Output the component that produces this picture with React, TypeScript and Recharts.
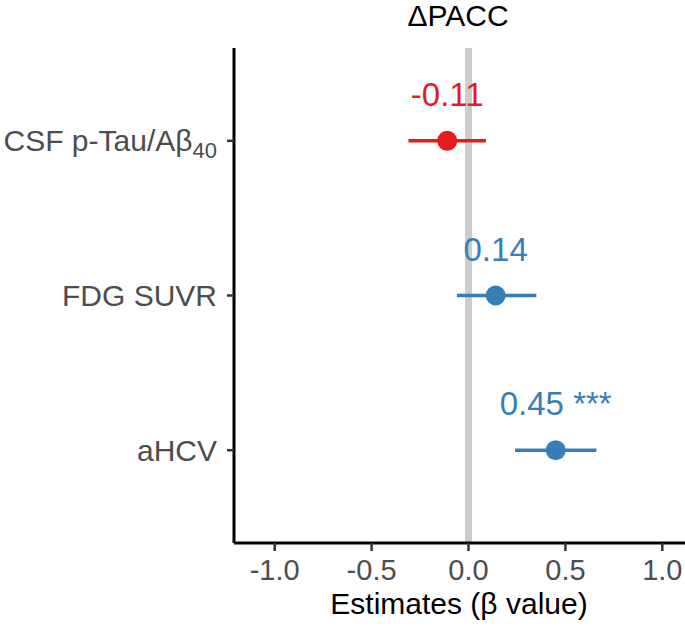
import { ScatterChart, Scatter, XAxis, YAxis, ErrorBar, ReferenceLine } from 'recharts'

// categories, top to bottom
const categoryNames = ['CSF p-Tau/Aβ', 'FDG SUVR', 'aHCV']
const categorySubs = ['40', '', '']
const positions = [1, 2, 3]

// beta estimates with 95% CI
const estimates = [-0.11, 0.14, 0.45]
const lower = [-0.31, -0.06, 0.24]
const upper = [0.09, 0.35, 0.66]
const valueLabels = ['-0.11', '0.14', '0.45 ***']

const xTicks = [-1, -0.5, 0, 0.5, 1]

const RED = '#E41A1C'
const BLUE = '#377EB8'
const FONT = '"Liberation Sans", Arial, Helvetica, sans-serif'

const rows = positions.map((pos, i) => ({
  pos,
  est: estimates[i],
  err: [estimates[i] - lower[i], upper[i] - estimates[i]],
  label: valueLabels[i],
}))
const negRows = rows.filter((r) => r.est < 0)
const posRows = rows.filter((r) => r.est >= 0)

function CategoryTick({ x, y, payload }: any) {
  const i = positions.indexOf(payload.value)
  if (i < 0) return null
  return (
    <text x={x} y={y + 10.5} textAnchor="end" fill="#4D4D4D" fontSize={30} fontFamily={FONT}>
      {categoryNames[i]}
      {categorySubs[i] && (
        <tspan fontSize={22} dy={7}>
          {categorySubs[i]}
        </tspan>
      )}
    </text>
  )
}

function ValueTick({ x, y, payload }: any) {
  return (
    <text x={x} y={y + 29} textAnchor="middle" fill="#4D4D4D" fontSize={29} fontFamily={FONT}>
      {Number(payload.value).toFixed(1)}
    </text>
  )
}

function makePoint(color: string) {
  return (props: any) => {
    const { cx, cy, payload } = props
    return (
      <g>
        <circle cx={cx} cy={cy} r={10} fill={color} />
        <text x={cx} y={cy - 35} textAnchor="middle" fill={color} fontSize={33} fontFamily={FONT}>
          {payload.label}
        </text>
      </g>
    )
  }
}

export default function App() {
  return (
    <div style={{ position: 'absolute', left: 0, top: 0, width: 685, height: 628, background: '#fff' }}>
      <ScatterChart width={685} height={628} margin={{ top: 48, right: 0, left: 0, bottom: 0 }}>
        <XAxis
          type="number"
          dataKey="est"
          domain={[-1.21, 1.117]}
          ticks={xTicks}
          allowDataOverflow
          height={85}
          tickSize={8}
          tickMargin={0}
          tick={<ValueTick />}
          axisLine={{ stroke: '#000', strokeWidth: 3 }}
          tickLine={{ stroke: '#333', strokeWidth: 2.5 }}
        />
        <YAxis
          type="number"
          dataKey="pos"
          domain={[0.4, 3.6]}
          ticks={positions}
          reversed
          allowDataOverflow
          width={234}
          tickSize={7}
          tickMargin={10}
          tick={<CategoryTick />}
          axisLine={{ stroke: '#000', strokeWidth: 3 }}
          tickLine={{ stroke: '#333', strokeWidth: 2.5 }}
        />
        <ReferenceLine x={0} stroke="#CCCCCC" strokeWidth={7} />
        <Scatter data={negRows} fill={RED} shape={makePoint(RED)} isAnimationActive={false}>
          <ErrorBar dataKey="err" direction="x" width={0} stroke={RED} strokeWidth={3.5} />
        </Scatter>
        <Scatter data={posRows} fill={BLUE} shape={makePoint(BLUE)} isAnimationActive={false}>
          <ErrorBar dataKey="err" direction="x" width={0} stroke={BLUE} strokeWidth={3.5} />
        </Scatter>
      </ScatterChart>
      <svg
        width={685}
        height={628}
        style={{ position: 'absolute', left: 0, top: 0, pointerEvents: 'none' }}
      >
        <text x={458} y={26} textAnchor="middle" fill="#000" fontSize={30} fontFamily={FONT}>
          ΔPACC
        </text>
        <text x={459} y={614} textAnchor="middle" fill="#000" fontSize={30} fontFamily={FONT}>
          Estimates (β value)
        </text>
      </svg>
    </div>
  )
}
